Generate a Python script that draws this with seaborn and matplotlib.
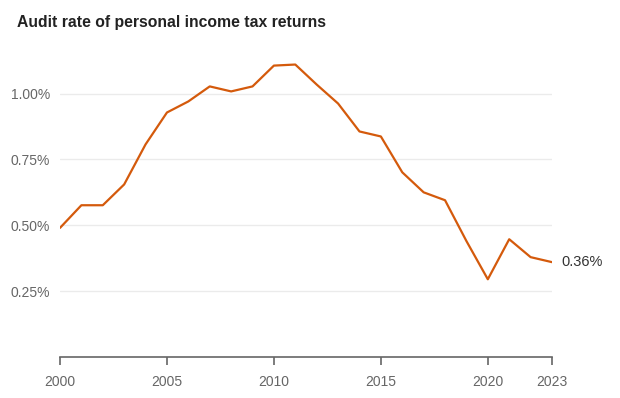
import pandas as pd
import matplotlib.pyplot as plt
import seaborn as sns

# Data
years = list(range(2000, 2024))
audit_rate = [0.49, 0.576, 0.576, 0.655, 0.807, 0.928, 0.97, 1.027, 1.008, 1.027,
              1.106, 1.11, 1.034, 0.962, 0.856, 0.837, 0.701, 0.625, 0.595, 0.44,
              0.295, 0.447, 0.379, 0.36]
x_ticks = [2000, 2005, 2010, 2015, 2020, 2023]
y_ticks = [0.25, 0.50, 0.75, 1.00]

df = pd.DataFrame({'Year': years, 'Rate': audit_rate})

sns.set_style("white")
plt.rcParams['font.family'] = ['Liberation Sans', 'DejaVu Sans']

fig = plt.figure(figsize=(6.2, 3.98), dpi=100)
ax = fig.add_axes([60 / 620, 1 - 357 / 398, 492 / 620, (357 - 54) / 398])

sns.lineplot(x='Year', y='Rate', data=df, color='#d45a0c', linewidth=1.6, ax=ax)

ax.set_xlim(2000, 2023)
ax.set_ylim(0, 1.15)
ax.set_xticks(x_ticks)
ax.set_yticks(y_ticks)
ax.set_yticklabels([f'{v:.2f}%' for v in y_ticks])
ax.set_xlabel('')
ax.set_ylabel('')

ax.yaxis.grid(True, color='#ebebeb', linewidth=1)
ax.xaxis.grid(False)
for side in ['top', 'right', 'left']:
    ax.spines[side].set_visible(False)
ax.spines['bottom'].set_color('#666666')
ax.spines['bottom'].set_linewidth(1.2)

ax.tick_params(axis='x', colors='#666666', labelsize=10, length=6, width=1.2,
               direction='out', pad=7, bottom=True)
ax.tick_params(axis='y', colors='#666666', labelsize=10, length=0, pad=7)
for lbl in ax.get_xticklabels() + ax.get_yticklabels():
    lbl.set_color('#666666')

# end label
ax.annotate(f'{audit_rate[-1]:.2f}%', xy=(years[-1], audit_rate[-1]),
            xytext=(7, 0), textcoords='offset points', va='center', ha='left',
            fontsize=10.5, color='#333333', annotation_clip=False)

fig.text(17 / 620, 1 - 23 / 398, 'Audit rate of personal income tax returns',
         fontsize=11.3, fontweight='bold', color='#222222', va='center', ha='left')

plt.savefig('out.png', dpi=100)
